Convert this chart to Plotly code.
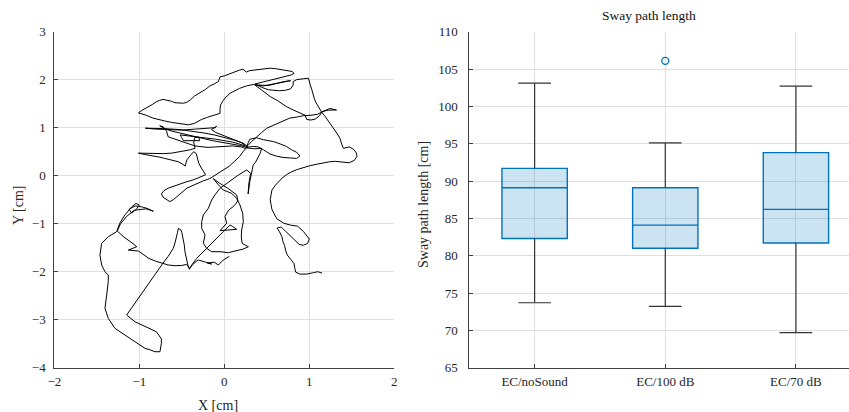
import plotly.graph_objects as go

# ---------------- data ----------------
# centre-of-pressure trajectory (X [cm], Y [cm])
cop_path = [
    # tail
    (1.15,-2.03),(1.10,-2.00),(1.05,-2.02),(0.97,-2.05),(0.89,-2.05),(0.84,-2.01),(0.83,-1.93),(0.82,-1.83),
    (0.79,-1.76),(0.77,-1.71),(0.74,-1.65),(0.72,-1.55),(0.71,-1.46),(0.69,-1.37),(0.68,-1.28),(0.65,-1.17),(0.62,-1.09),
    # lower-right lobe
    (0.67,-1.07),(0.73,-1.17),(0.78,-1.25),(0.83,-1.34),(0.88,-1.43),(0.93,-1.45),(0.98,-1.41),(1.00,-1.32),
    (0.97,-1.24),(0.93,-1.16),(0.86,-1.05),(0.78,-1.03),(0.70,-0.99),(0.62,-0.90),(0.60,-0.84),(0.575,-0.77),
    (0.56,-0.70),(0.55,-0.60),(0.54,-0.50),(0.55,-0.40),(0.56,-0.30),
    # right side going up
    (0.60,-0.20),(0.64,-0.12),(0.68,-0.05),(0.73,0.02),(0.79,0.08),(0.86,0.13),(0.93,0.17),(1.01,0.21),
    (1.09,0.24),(1.17,0.27),(1.24,0.29),(1.30,0.30),(1.36,0.29),(1.42,0.28),(1.47,0.27),(1.53,0.32),
    (1.56,0.40),(1.555,0.47),(1.52,0.55),(1.47,0.60),(1.42,0.58),(1.40,0.57),(1.385,0.64),(1.37,0.72),
    (1.36,0.78),(1.33,0.87),(1.30,0.95),(1.26,1.06),(1.22,1.15),(1.18,1.25),(1.15,1.31),(1.11,1.42),
    (1.08,1.52),(1.06,1.60),(1.04,1.70),(1.03,1.79),(1.01,1.90),(0.99,2.03),
    # upper small loop
    (0.93,2.02),(0.85,2.00),(0.81,1.96),(0.81,1.89),(0.78,1.81),(0.72,1.78),(0.65,1.77),(0.58,1.78),
    (0.52,1.79),(0.44,1.84),(0.36,1.91),
    # crossing line and top arc
    (0.45,1.95),(0.54,1.99),(0.66,2.04),(0.79,2.10),(0.82,2.13),(0.80,2.17),(0.77,2.18),(0.68,2.21),
    (0.60,2.23),(0.54,2.24),(0.45,2.22),(0.38,2.20),(0.30,2.19),(0.26,2.16),(0.22,2.22),(0.18,2.20),
    (0.12,2.16),(0.07,2.12),(0.00,2.08),(-0.05,2.06),(-0.07,1.96),(-0.12,1.91),(-0.17,1.87),(-0.22,1.80),
    (-0.27,1.75),(-0.31,1.70),(-0.35,1.66),(-0.40,1.58),(-0.44,1.53),(-0.48,1.51),(-0.53,1.52),(-0.58,1.52),
    (-0.62,1.55),(-0.66,1.56),(-0.72,1.59),(-0.76,1.57),(-0.80,1.54),(-0.85,1.48),(-0.89,1.44),(-0.94,1.40),
    (-0.97,1.36),(-1.01,1.31),
    # lower edge back to the right
    (-0.97,1.29),(-0.92,1.26),(-0.84,1.20),(-0.76,1.16),(-0.70,1.14),(-0.62,1.11),(-0.54,1.09),(-0.47,1.07),
    (-0.42,1.06),(-0.35,1.09),(-0.30,1.14),(-0.27,1.17),(-0.21,1.21),(-0.17,1.23),(-0.12,1.25),(-0.09,1.28),
    (-0.05,1.30),
    # inner arc
    (-0.05,1.38),(-0.045,1.47),(-0.02,1.55),(0.01,1.62),(0.07,1.72),(0.13,1.78),(0.18,1.82),(0.26,1.87),(0.34,1.90),
    (0.46,1.87),(0.62,1.92),(0.78,1.98),(0.70,1.96),(0.52,1.88),(0.36,1.89),
    # long diagonal and right spur
    (0.45,1.77),(0.54,1.65),(0.63,1.56),(0.73,1.44),(0.81,1.37),(0.89,1.30),(0.95,1.26),(0.97,1.17),
    (1.02,1.16),(1.07,1.18),(1.12,1.25),(1.15,1.33),(1.20,1.37),(1.24,1.40),(1.32,1.37),(1.22,1.365),
    (1.16,1.34),(1.10,1.28),(1.02,1.26),(0.93,1.25),(0.85,1.22),(0.77,1.20),(0.68,1.13),(0.58,1.06),
    (0.50,0.99),(0.44,0.90),(0.38,0.81),(0.32,0.71),(0.28,0.63),(0.26,0.60),
    # right lobe
    (0.30,0.76),(0.38,0.79),(0.46,0.75),(0.58,0.71),(0.66,0.66),(0.73,0.61),(0.80,0.53),(0.85,0.49),
    (0.89,0.41),(0.85,0.36),(0.77,0.37),(0.69,0.38),(0.61,0.41),(0.54,0.45),(0.46,0.54),(0.40,0.60),
    (0.33,0.61),(0.27,0.59),
    # central cluster
    (0.18,0.63),(0.08,0.66),(-0.03,0.69),(-0.14,0.73),(-0.26,0.78),(-0.38,0.83),(-0.50,0.88),(-0.62,0.93),
    (-0.70,0.98),(-0.76,1.04),(-0.72,1.02),(-0.68,0.93),(-0.66,0.81),(-0.58,0.76),(-0.50,0.71),(-0.42,0.66),
    (-0.345,0.62),(-0.25,0.60),(-0.19,0.59),(-0.10,0.60),(0.00,0.61),(0.10,0.62),(0.20,0.60),(0.24,0.57),
    (0.28,0.60),(0.22,0.68),(0.12,0.74),(0.00,0.80),(-0.12,0.85),(-0.24,0.89),(-0.38,0.93),(-0.52,0.96),
    (-0.70,0.98),(-0.85,0.99),(-0.93,0.99),(-0.80,0.97),(-0.65,0.96),(-0.50,0.95),(-0.35,0.97),(-0.20,0.99),
    (-0.11,1.00),(-0.09,1.03),(-0.15,0.96),(-0.10,0.90),(0.00,0.83),(0.10,0.76),(0.20,0.69),(0.25,0.62),
    (0.10,0.70),(-0.10,0.76),(-0.30,0.80),(-0.52,0.85),(-0.50,0.79),(-0.48,0.73),(-0.38,0.73),(-0.29,0.73),
    (-0.30,0.80),(-0.345,0.80),(-0.36,0.70),(-0.35,0.62),(-0.345,0.57),
    # left tip at y~0.45
    (-0.40,0.54),(-0.46,0.52),(-0.54,0.49),(-0.62,0.47),(-0.72,0.46),(-0.82,0.46),(-0.92,0.47),(-1.01,0.47),
    (-0.93,0.44),(-0.85,0.42),(-0.77,0.39),(-0.70,0.36),(-0.62,0.33),(-0.54,0.29),(-0.49,0.24),(-0.46,0.20),
    (-0.45,0.27),(-0.44,0.33),(-0.40,0.42),(-0.36,0.50),(-0.33,0.46),
    # down towards the arrow
    (-0.32,0.40),(-0.30,0.26),(-0.27,0.16),(-0.247,0.084),(-0.22,0.02),
    (-0.30,-0.04),(-0.37,-0.09),(-0.45,-0.13),(-0.52,-0.17),(-0.60,-0.22),(-0.66,-0.26),(-0.71,-0.31),(-0.74,-0.38),
    (-0.72,-0.45),(-0.68,-0.50),(-0.64,-0.54),(-0.60,-0.50),(-0.55,-0.42),(-0.49,-0.33),(-0.44,-0.26),(-0.38,-0.21),
    (-0.32,-0.16),(-0.25,-0.11),(-0.17,-0.06),
    # back up to the knot
    (-0.10,0.02),(-0.02,0.10),(0.06,0.20),(0.12,0.30),(0.18,0.40),(0.22,0.50),(0.26,0.58),
    (0.36,0.56),(0.44,0.57),(0.42,0.46),(0.40,0.38),(0.37,0.29),(0.34,0.22),(0.32,0.08),(0.30,-0.12),
    (0.28,-0.38),(0.29,-0.15),(0.31,0.05),(0.263,0.119),(0.165,0.014),(0.06,-0.12),(-0.051,-0.264),(-0.11,-0.40),
    # big central loop
    (-0.149,-0.506),(-0.188,-0.68),(-0.247,-0.819),(-0.266,-0.958),(-0.266,-1.097),(-0.227,-1.235),(-0.247,-1.409),
    (-0.208,-1.513),(-0.149,-1.583),(-0.051,-1.583),(0.047,-1.604),(0.126,-1.569),(0.22,-1.53),(0.283,-1.48),
    (0.21,-1.41),(0.20,-1.28),(0.204,-1.131),(0.224,-0.958),(0.216,-0.784),(0.184,-0.61),(0.145,-0.472),
    (0.086,-0.367),(-0.012,-0.298),(-0.07,-0.19),(-0.13,-0.06),
    (-0.06,-0.15),(0.04,-0.26),(0.145,-0.40),(0.16,-0.52),(0.12,-0.62),(0.05,-0.72),(0.008,-0.85),
    (0.028,-0.99),(-0.05,-1.145),(0.05,-1.125),(0.145,-1.117),(0.10,-1.06),(0.067,-1.027),
    # diagonal down to the finger
    (-0.012,-1.166),(-0.09,-1.305),(-0.168,-1.444),(-0.247,-1.583),(-0.325,-1.722),(-0.38,-1.85),(-0.41,-1.95),
    (-0.43,-1.85),(-0.443,-1.757),(-0.463,-1.583),(-0.47,-1.45),(-0.482,-1.306),(-0.50,-1.18),(-0.51,-1.13),
    (-0.541,-1.097),(-0.55,-1.18),(-0.561,-1.271),(-0.58,-1.40),(-0.60,-1.514),(-0.66,-1.68),(-0.737,-1.861),
    (-0.83,-2.10),(-0.933,-2.347),(-1.04,-2.62),(-1.149,-2.903),
    # bottom-left loop
    (-1.051,-3.042),(-0.933,-3.146),(-0.80,-3.25),(-0.74,-3.40),(-0.74,-3.49),(-0.757,-3.667),(-0.816,-3.667),
    (-0.87,-3.63),(-0.933,-3.597),(-1.051,-3.458),(-1.169,-3.319),(-1.286,-3.181),(-1.365,-2.972),(-1.404,-2.764),
    (-1.384,-2.486),(-1.365,-2.208),(-1.365,-2.069),(-1.404,-2.0),(-1.443,-1.861),(-1.463,-1.653),(-1.443,-1.41),
    (-1.365,-1.271),(-1.267,-1.167),
    # small tangle above
    (-1.23,-0.99),(-1.17,-0.82),(-1.13,-0.74),(-1.09,-0.65),(-1.04,-0.58),(-1.00,-0.61),(-1.03,-0.69),(-1.09,-0.78),
    (-1.12,-0.70),(-1.05,-0.63),(-0.97,-0.65),(-0.91,-0.68),(-0.835,-0.74),(-0.92,-0.69),(-1.06,-0.72),(-1.15,-0.85),
    (-1.22,-1.0),(-1.26,-1.15),
    # arc to the right
    (-1.18,-1.28),(-1.13,-1.34),(-1.07,-1.42),(-1.03,-1.48),(-1.13,-1.55),(-1.01,-1.57),(-0.95,-1.65),(-0.89,-1.72),
    (-0.81,-1.78),(-0.737,-1.826),(-0.66,-1.86),(-0.58,-1.875),(-0.50,-1.87),(-0.443,-1.847),(-0.41,-1.93),
    (-0.36,-1.83),(-0.306,-1.756),(-0.22,-1.80),(-0.149,-1.84),(-0.20,-1.82),(-0.12,-1.80),(-0.07,-1.86),
    (-0.012,-1.756),(0.06,-1.68),
]
cop_x = [p[0] for p in cop_path]
cop_y = [p[1] for p in cop_path]

x_ticks = [-2, -1, 0, 1, 2]
y_ticks = [-4, -3, -2, -1, 0, 1, 2, 3]

conditions = ["EC/noSound", "EC/100 dB", "EC/70 dB"]
cond_pos = [1, 2, 3]
lower_whisker = [73.7, 73.2, 69.7]
q1 = [82.3, 81.0, 81.7]
median = [89.1, 84.1, 86.2]
q3 = [91.7, 89.1, 93.8]
upper_whisker = [103.1, 95.1, 102.7]
outlier_pos = [2]
outlier_val = [106.1]
sway_ticks = [65, 70, 75, 80, 85, 90, 95, 100, 105, 110]

# ---------------- figure ----------------
W, H = 849, 412
FONT = "Liberation Serif"
TXT = "#262626"
GRID = "#dfdfdf"
BLUE = "#0072BD"

fig = go.Figure()

fig.add_trace(go.Scatter(x=cop_x, y=cop_y, mode="lines",
                         line=dict(color="black", width=1), xaxis="x", yaxis="y",
                         hoverinfo="skip", showlegend=False))

# whiskers (black) built from the stats
wx, wy = [], []
cap = 0.125
for p, lo, a, b, hi in zip(cond_pos, lower_whisker, q1, q3, upper_whisker):
    wx += [p, p, None, p, p, None, p - cap, p + cap, None, p - cap, p + cap, None]
    wy += [b, hi, None, a, lo, None, hi, hi, None, lo, lo, None]
fig.add_trace(go.Scatter(x=wx, y=wy, mode="lines", line=dict(color="#333333", width=1.2),
                         xaxis="x2", yaxis="y2", hoverinfo="skip", showlegend=False))

fig.add_trace(go.Box(x=cond_pos, q1=q1, median=median, q3=q3,
                     lowerfence=q1, upperfence=q3, width=0.5, whiskerwidth=0,
                     line=dict(color=BLUE, width=1.4), fillcolor="rgba(0,114,189,0.2)",
                     boxpoints=False, xaxis="x2", yaxis="y2", hoverinfo="skip",
                     showlegend=False))

fig.add_trace(go.Scatter(x=outlier_pos, y=outlier_val, mode="markers",
                         marker=dict(symbol="circle-open", size=7, color=BLUE, line=dict(width=1.3)),
                         xaxis="x2", yaxis="y2", hoverinfo="skip", showlegend=False))

ax_common = dict(showline=True, linecolor="#404040", linewidth=1, ticks="inside", ticklen=4,
                 tickcolor="#404040", showgrid=True, gridcolor=GRID, gridwidth=1, zeroline=False,
                 tickfont=dict(family=FONT, size=13, color=TXT), fixedrange=True, automargin=False)

y0 = 1 - 367.7 / H
y1 = 1 - 31.7 / H


def label(text, px, py, size=14, angle=0, color=TXT):
    return dict(text=text, x=px / W, y=1 - py / H, xref="paper", yref="paper",
                xanchor="center", yanchor="middle", showarrow=False, textangle=angle,
                font=dict(family=FONT, size=size, color=color))


fig.update_layout(
    width=W, height=H, margin=dict(l=0, r=0, t=0, b=0, autoexpand=False),
    paper_bgcolor="white", plot_bgcolor="white",
    xaxis=dict(domain=[54.3 / W, 394.3 / W], range=[-2, 2], tickvals=x_ticks,
               anchor="y", ticklabelstandoff=2, **ax_common),
    yaxis=dict(domain=[y0, y1], range=[-4, 3], tickvals=y_ticks,
               anchor="x", ticklabelstandoff=5, **ax_common),
    xaxis2=dict(domain=[469.3 / W, 1.0], range=[0.5, 0.5 + (W - 469.3) / 130.65],
                tickvals=cond_pos, ticktext=conditions, anchor="y2", ticklabelstandoff=2, **ax_common),
    yaxis2=dict(domain=[y0, y1], range=[65, 110], tickvals=sway_ticks,
                anchor="x2", ticklabelstandoff=8, **ax_common),
    annotations=[
        label("X [cm]", 218, 405),
        label("Y [cm]", 18, 205, angle=-90),
        label("Sway path length [cm]", 423, 205, angle=-90),
        label("Sway path length", 648.5, 16, size=13.5, color="#111111"),
    ],
)

fig.write_html("out.html")
